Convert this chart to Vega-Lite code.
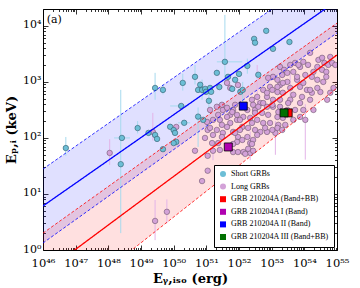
{
"$schema":"https://vega.github.io/schema/vega-lite/v6.json",
"width":294,"height":241,
"autosize":"none",
"padding":{"left":43,"top":9,"right":23,"bottom":38},
"background":"white",
"config":{"view":{"stroke":"#000","strokeWidth":1},"font":"DejaVu Serif",
"legend":{"orient":"bottom-right","offset":3,"strokeColor":"#000","fillColor":"#fff","padding":5,"labelFont":"Liberation Serif","labelFontSize":8,"labelColor":"#000","symbolSize":36,"rowPadding":2.6,"symbolStrokeColor":"#333","symbolStrokeWidth":0.7,"cornerRadius":0,"labelLimit":200,"symbolOpacity":1}},
"datasets":{
"bands":[{"sample":"short","E":1e46,"lo":1.334,"hi":27.9},{"sample":"short","E":1e55,"lo":7500,"hi":129000},{"sample":"long","E":1e46,"lo":0.056,"hi":2.0},{"sample":"long","E":1e55,"lo":776,"hi":11200}],
"lines":[{"line":"s_fit","sample":"short","kind":"fit","E":1e46,"Ep":6.11},{"line":"s_fit","sample":"short","kind":"fit","E":1e55,"Ep":28100},
{"line":"s_hi","sample":"short","kind":"bound","E":1e46,"Ep":27.9},{"line":"s_hi","sample":"short","kind":"bound","E":1e55,"Ep":129000},
{"line":"s_lo","sample":"short","kind":"bound","E":1e46,"Ep":1.334},{"line":"s_lo","sample":"short","kind":"bound","E":1e55,"Ep":7500},
{"line":"l_fit","sample":"long","kind":"fit","E":1e46,"Ep":0.38},{"line":"l_fit","sample":"long","kind":"fit","E":1e55,"Ep":3020},
{"line":"l_hi","sample":"long","kind":"bound","E":1e46,"Ep":2.0},{"line":"l_hi","sample":"long","kind":"bound","E":1e55,"Ep":11200},
{"line":"l_lo","sample":"long","kind":"bound","E":1e46,"Ep":0.056},{"line":"l_lo","sample":"long","kind":"bound","E":1e55,"Ep":776}],
"short":[
{"cat":"Short GRBs","E":5.0e46,"Ep":66,"lo":48,"hi":104},
{"cat":"Short GRBs","E":2.4e48,"Ep":34,"lo":2.0,"hi":720},
{"cat":"Short GRBs","E":2.6e48,"Ep":100,"elo":1.5e48,"ehi":4.6e48},
{"cat":"Short GRBs","E":7.9e48,"Ep":150,"lo":120,"hi":200},
{"cat":"Short GRBs","E":1.7e49,"Ep":123},
{"cat":"Short GRBs","E":2.7e49,"Ep":780,"lo":480,"hi":1450},
{"cat":"Short GRBs","E":4.7e49,"Ep":720,"lo":600,"hi":900},
{"cat":"Short GRBs","E":2.7e49,"Ep":113},
{"cat":"Short GRBs","E":4.7e49,"Ep":63},
{"cat":"Short GRBs","E":3.1e49,"Ep":96},
{"cat":"Short GRBs","E":7.8e49,"Ep":158},
{"cat":"Short GRBs","E":1.0e50,"Ep":138},
{"cat":"Short GRBs","E":1.1e50,"Ep":123},
{"cat":"Short GRBs","E":1.2e50,"Ep":85},
{"cat":"Short GRBs","E":1.0e50,"Ep":81},
{"cat":"Short GRBs","E":1.7e50,"Ep":372,"elo":7.8e49,"ehi":2.8e50},
{"cat":"Short GRBs","E":1.9e50,"Ep":960,"lo":700,"hi":1400},
{"cat":"Short GRBs","E":2.1e50,"Ep":186,"elo":1.35e50,"ehi":3.2e50},
{"cat":"Short GRBs","E":4.5e50,"Ep":1230,"lo":900,"hi":2000},
{"cat":"Short GRBs","E":5.6e50,"Ep":720},
{"cat":"Short GRBs","E":6.5e50,"Ep":890},
{"cat":"Short GRBs","E":7.4e50,"Ep":720,"lo":480,"hi":1100},
{"cat":"Short GRBs","E":9.2e50,"Ep":750},
{"cat":"Short GRBs","E":9.8e50,"Ep":665},
{"cat":"Short GRBs","E":1.2e51,"Ep":460,"lo":280,"hi":650},
{"cat":"Short GRBs","E":1.3e51,"Ep":780},
{"cat":"Short GRBs","E":1.4e51,"Ep":665},
{"cat":"Short GRBs","E":5.6e50,"Ep":240,"lo":69,"hi":350},
{"cat":"Short GRBs","E":8.0e50,"Ep":210},
{"cat":"Short GRBs","E":2.1e51,"Ep":1450},
{"cat":"Short GRBs","E":2.5e51,"Ep":810},
{"cat":"Short GRBs","E":3.7e51,"Ep":2280,"lo":900,"hi":15700,"elo":2.1e51,"ehi":1.26e52},
{"cat":"Short GRBs","E":4.6e51,"Ep":1230},
{"cat":"Short GRBs","E":7.6e51,"Ep":1090},
{"cat":"Short GRBs","E":1.0e52,"Ep":1390},
{"cat":"Short GRBs","E":1.1e52,"Ep":665},
{"cat":"Short GRBs","E":1.3e52,"Ep":720,"lo":420,"hi":1000},
{"cat":"Short GRBs","E":1.8e52,"Ep":1930,"lo":1400,"hi":2600},
{"cat":"Short GRBs","E":2.9e52,"Ep":5860},
{"cat":"Short GRBs","E":3.1e52,"Ep":5000},
{"cat":"Short GRBs","E":3.9e52,"Ep":1340},
{"cat":"Short GRBs","E":6.8e52,"Ep":8150},
{"cat":"Short GRBs","E":1.1e53,"Ep":3890},
{"cat":"Short GRBs","E":3.5e53,"Ep":5160},
{"cat":"Short GRBs","E":6.2e51,"Ep":750}],
"long":[
{"cat":"Long GRBs","E":2.7e54,"Ep":2470},{"cat":"Long GRBs","E":4.1e54,"Ep":2180},{"cat":"Long GRBs","E":5.4e54,"Ep":2010},{"cat":"Long GRBs","E":7.1e54,"Ep":2180},
{"cat":"Long GRBs","E":2.5e54,"Ep":1850},{"cat":"Long GRBs","E":3.5e54,"Ep":1640},{"cat":"Long GRBs","E":4.7e54,"Ep":1510},{"cat":"Long GRBs","E":1.9e54,"Ep":1510},
{"cat":"Long GRBs","E":9.3e53,"Ep":2280},{"cat":"Long GRBs","E":1.3e54,"Ep":2010},{"cat":"Long GRBs","E":7.4e53,"Ep":1850},{"cat":"Long GRBs","E":5.2e53,"Ep":2180},
{"cat":"Long GRBs","E":3.7e53,"Ep":2010},{"cat":"Long GRBs","E":1.8e53,"Ep":1850},{"cat":"Long GRBs","E":2.4e53,"Ep":1640},{"cat":"Long GRBs","E":4.6e53,"Ep":1510},
{"cat":"Long GRBs","E":1.07e54,"Ep":1330},{"cat":"Long GRBs","E":1.7e54,"Ep":1230},{"cat":"Long GRBs","E":2.5e54,"Ep":1090},{"cat":"Long GRBs","E":3.8e54,"Ep":1000},
{"cat":"Long GRBs","E":4.7e54,"Ep":1230},{"cat":"Long GRBs","E":8.9e54,"Ep":2010},{"cat":"Long GRBs","E":1.1e53,"Ep":1230},{"cat":"Long GRBs","E":7.8e52,"Ep":1180},
{"cat":"Long GRBs","E":1.5e53,"Ep":1090},{"cat":"Long GRBs","E":3.0e53,"Ep":1000},{"cat":"Long GRBs","E":6.0e53,"Ep":1090},{"cat":"Long GRBs","E":1.8e53,"Ep":880},
{"cat":"Long GRBs","E":3.7e53,"Ep":780,"lo":400,"hi":1500},{"cat":"Long GRBs","E":7.4e53,"Ep":815},{"cat":"Long GRBs","E":1.2e54,"Ep":720},{"cat":"Long GRBs","E":8.9e52,"Ep":815},
{"cat":"Long GRBs","E":5.5e52,"Ep":720},{"cat":"Long GRBs","E":1.5e53,"Ep":660},{"cat":"Long GRBs","E":2.2e53,"Ep":640},{"cat":"Long GRBs","E":4.6e53,"Ep":590},
{"cat":"Long GRBs","E":8.5e53,"Ep":540},{"cat":"Long GRBs","E":1.7e54,"Ep":640},{"cat":"Long GRBs","E":3.1e54,"Ep":660},{"cat":"Long GRBs","E":5.0e54,"Ep":480},
{"cat":"Long GRBs","E":3.6e52,"Ep":540,"lo":380,"hi":2000},{"cat":"Long GRBs","E":7.2e52,"Ep":540},{"cat":"Long GRBs","E":1.1e53,"Ep":480},{"cat":"Long GRBs","E":1.8e53,"Ep":480},
{"cat":"Long GRBs","E":3.7e53,"Ep":480},{"cat":"Long GRBs","E":7.4e53,"Ep":420},{"cat":"Long GRBs","E":1.5e54,"Ep":480},{"cat":"Long GRBs","E":1.9e54,"Ep":316},
{"cat":"Long GRBs","E":2.5e52,"Ep":480},{"cat":"Long GRBs","E":4.5e52,"Ep":420},{"cat":"Long GRBs","E":7.2e52,"Ep":360},{"cat":"Long GRBs","E":1.1e53,"Ep":360},
{"cat":"Long GRBs","E":1.8e53,"Ep":360},{"cat":"Long GRBs","E":3.0e53,"Ep":316},{"cat":"Long GRBs","E":5.2e53,"Ep":316},{"cat":"Long GRBs","E":9.3e53,"Ep":316},
{"cat":"Long GRBs","E":1.8e52,"Ep":316},{"cat":"Long GRBs","E":3.1e52,"Ep":316},{"cat":"Long GRBs","E":5.1e52,"Ep":280},{"cat":"Long GRBs","E":7.8e52,"Ep":258},
{"cat":"Long GRBs","E":1.5e53,"Ep":237},{"cat":"Long GRBs","E":2.2e53,"Ep":228},{"cat":"Long GRBs","E":4.6e53,"Ep":210},{"cat":"Long GRBs","E":7.4e53,"Ep":237},
{"cat":"Long GRBs","E":1.07e54,"Ep":210,"lo":41,"hi":400},{"cat":"Long GRBs","E":1.35e52,"Ep":237},{"cat":"Long GRBs","E":2.2e52,"Ep":228},{"cat":"Long GRBs","E":3.6e52,"Ep":210},
{"cat":"Long GRBs","E":5.5e52,"Ep":185},{"cat":"Long GRBs","E":8.9e52,"Ep":185},{"cat":"Long GRBs","E":1.6e53,"Ep":171},{"cat":"Long GRBs","E":8.7e51,"Ep":210},
{"cat":"Long GRBs","E":5.4e51,"Ep":185},{"cat":"Long GRBs","E":1.26e52,"Ep":157},{"cat":"Long GRBs","E":1.9e52,"Ep":151},{"cat":"Long GRBs","E":3.1e52,"Ep":139},
{"cat":"Long GRBs","E":4.5e52,"Ep":128},{"cat":"Long GRBs","E":7.2e52,"Ep":128},{"cat":"Long GRBs","E":1.3e53,"Ep":123,"lo":50,"hi":200},{"cat":"Long GRBs","E":6.6e51,"Ep":128},
{"cat":"Long GRBs","E":3.2e51,"Ep":316},{"cat":"Long GRBs","E":2.1e51,"Ep":360},{"cat":"Long GRBs","E":1.3e51,"Ep":316},{"cat":"Long GRBs","E":5.4e51,"Ep":258},
{"cat":"Long GRBs","E":2.6e51,"Ep":210},{"cat":"Long GRBs","E":4.3e51,"Ep":157},{"cat":"Long GRBs","E":1.6e51,"Ep":113},{"cat":"Long GRBs","E":9.3e51,"Ep":104},
{"cat":"Long GRBs","E":1.8e52,"Ep":104},{"cat":"Long GRBs","E":3.6e52,"Ep":113},{"cat":"Long GRBs","E":1.1e51,"Ep":139},{"cat":"Long GRBs","E":2.1e51,"Ep":139},
{"cat":"Long GRBs","E":3.0e51,"Ep":171},{"cat":"Long GRBs","E":3.2e51,"Ep":123},{"cat":"Long GRBs","E":7.6e51,"Ep":123},{"cat":"Long GRBs","E":1.07e52,"Ep":139},
{"cat":"Long GRBs","E":2.5e52,"Ep":185},{"cat":"Long GRBs","E":3.1e52,"Ep":280},{"cat":"Long GRBs","E":2.7e52,"Ep":390},{"cat":"Long GRBs","E":3.9e52,"Ep":360},
{"cat":"Long GRBs","E":5.5e52,"Ep":420},{"cat":"Long GRBs","E":8.7e51,"Ep":85},{"cat":"Long GRBs","E":1.26e52,"Ep":92},{"cat":"Long GRBs","E":2.2e52,"Ep":81,"lo":40,"hi":130},
{"cat":"Long GRBs","E":2.7e52,"Ep":92},{"cat":"Long GRBs","E":6.3e52,"Ep":151},{"cat":"Long GRBs","E":2.3e51,"Ep":81},{"cat":"Long GRBs","E":2.6e51,"Ep":61},
{"cat":"Long GRBs","E":6.6e51,"Ep":56},{"cat":"Long GRBs","E":1.35e52,"Ep":56},{"cat":"Long GRBs","E":2.2e52,"Ep":54},{"cat":"Long GRBs","E":1.6e51,"Ep":210},
{"cat":"Long GRBs","E":2.3e51,"Ep":258},{"cat":"Long GRBs","E":8.7e51,"Ep":258},{"cat":"Long GRBs","E":6.6e51,"Ep":316},{"cat":"Long GRBs","E":4.3e51,"Ep":345},
{"cat":"Long GRBs","E":3.0e51,"Ep":390},{"cat":"Long GRBs","E":1.05e51,"Ep":193},{"cat":"Long GRBs","E":1.3e51,"Ep":151},{"cat":"Long GRBs","E":4.3e51,"Ep":237},
{"cat":"Long GRBs","E":6.2e51,"Ep":290},{"cat":"Long GRBs","E":7.6e51,"Ep":390},{"cat":"Long GRBs","E":5.4e51,"Ep":780},{"cat":"Long GRBs","E":4.3e51,"Ep":960},
{"cat":"Long GRBs","E":9.3e51,"Ep":880},{"cat":"Long GRBs","E":3.0e51,"Ep":104},{"cat":"Long GRBs","E":1.5e51,"Ep":81},{"cat":"Long GRBs","E":9.1e50,"Ep":100},
{"cat":"Long GRBs","E":1.6e51,"Ep":59,"lo":40,"hi":80},{"cat":"Long GRBs","E":1.1e51,"Ep":48},{"cat":"Long GRBs","E":9.3e51,"Ep":56},{"cat":"Long GRBs","E":1.55e52,"Ep":52},
{"cat":"Long GRBs","E":1.9e52,"Ep":64},{"cat":"Long GRBs","E":2.7e52,"Ep":59},{"cat":"Long GRBs","E":2.5e52,"Ep":78},{"cat":"Long GRBs","E":6.6e51,"Ep":78},
{"cat":"Long GRBs","E":1.1e51,"Ep":26},{"cat":"Long GRBs","E":7.4e50,"Ep":17},{"cat":"Long GRBs","E":4.5e50,"Ep":59},{"cat":"Long GRBs","E":1.1e48,"Ep":54,"lo":33,"hi":95},
{"cat":"Long GRBs","E":2.7e49,"Ep":3.3,"lo":1.5,"hi":7.8},{"cat":"Long GRBs","E":6.2e49,"Ep":4.8,"lo":3,"hi":8},{"cat":"Long GRBs","E":2.3e49,"Ep":128,"lo":90,"hi":280},{"cat":"Long GRBs","E":1.2e50,"Ep":157},
{"cat":"Long GRBs","E":1.05e53,"Ep":390},{"cat":"Long GRBs","E":3.2e53,"Ep":420},{"cat":"Long GRBs","E":1.6e53,"Ep":290},{"cat":"Long GRBs","E":1.05e53,"Ep":139},
{"cat":"Long GRBs","E":1.5e53,"Ep":151},{"cat":"Long GRBs","E":1.07e52,"Ep":210},{"cat":"Long GRBs","E":1.5e54,"Ep":3300},{"cat":"Long GRBs","E":3.5e54,"Ep":2690},
{"cat":"Long GRBs","E":6.2e54,"Ep":2790},{"cat":"Long GRBs","E":6.6e53,"Ep":2010},{"cat":"Long GRBs","E":2.1e53,"Ep":1330},{"cat":"Long GRBs","E":3.0e53,"Ep":1450},
{"cat":"Long GRBs","E":6.0e53,"Ep":1230},{"cat":"Long GRBs","E":9.3e53,"Ep":960},{"cat":"Long GRBs","E":2.2e53,"Ep":960},{"cat":"Long GRBs","E":1.5e53,"Ep":815},
{"cat":"Long GRBs","E":1.05e53,"Ep":720},{"cat":"Long GRBs","E":7.2e52,"Ep":640},{"cat":"Long GRBs","E":2.5e54,"Ep":780},{"cat":"Long GRBs","E":7.8e54,"Ep":780},
{"cat":"Long GRBs","E":6.2e54,"Ep":640},{"cat":"Long GRBs","E":1.5e54,"Ep":720},{"cat":"Long GRBs","E":2.6e53,"Ep":171},{"cat":"Long GRBs","E":2.1e53,"Ep":139}],
"special":[
{"cat":"GRB 210204A (Band+BB)","E":3.2e53,"Ep":280},
{"cat":"GRB 210204A I (Band)","E":4.7e51,"Ep":69},
{"cat":"GRB 210204A II (Band)","E":1.35e52,"Ep":370},
{"cat":"GRB 210204A III (Band+BB)","E":2.4e53,"Ep":280}],
"label":[{"text":"(a)","E":1.3e46,"Ep":12800}]
},
"layer":[
{"data":{"name":"bands"},"mark":{"type":"area","fillOpacity":0.12,"clip":true},
 "encoding":{
  "x":{"field":"E","type":"quantitative","scale":{"type":"log","domain":[1e46,1e55],"nice":false},
   "axis":{"orient":"top","labels":false,"title":null,"grid":false,"domain":false,"tickColor":"#000","tickWidth":0.8,
   "tickSize":{"condition":{"test":"abs(log(datum.value)/LN10 - round(log(datum.value)/LN10)) < 0.01","value":-5},"value":-2.5},
   "values":[1e46,2e46,3e46,4e46,5e46,6e46,7e46,8e46,9e46,1e47,2e47,3e47,4e47,5e47,6e47,7e47,8e47,9e47,1e48,2e48,3e48,4e48,5e48,6e48,7e48,8e48,9e48,1e49,2e49,3e49,4e49,5e49,6e49,7e49,8e49,9e49,1e50,2e50,3e50,4e50,5e50,6e50,7e50,8e50,9e50,1e51,2e51,3e51,4e51,5e51,6e51,7e51,8e51,9e51,1e52,2e52,3e52,4e52,5e52,6e52,7e52,8e52,9e52,1e53,2e53,3e53,4e53,5e53,6e53,7e53,8e53,9e53,1e54,2e54,3e54,4e54,5e54,6e54,7e54,8e54,9e54,1e55]}},
  "y":{"field":"lo","type":"quantitative","scale":{"type":"log","domain":[1,20000],"nice":false},
   "axis":{"orient":"right","labels":false,"title":null,"grid":false,"domain":false,"tickColor":"#000","tickWidth":0.8,
   "tickSize":{"condition":{"test":"abs(log(datum.value)/LN10 - round(log(datum.value)/LN10)) < 0.01","value":-5},"value":-2.5},
   "values":[1,2,3,4,5,6,7,8,9,10,20,30,40,50,60,70,80,90,100,200,300,400,500,600,700,800,900,1000,2000,3000,4000,5000,6000,7000,8000,9000,10000,20000]}},
  "y2":{"field":"hi"},
  "fill":{"field":"sample","type":"nominal","scale":{"domain":["short","long"],"range":["#0000ff","#ff0000"]},"legend":null}
 }},
{"layer":[
 {"data":{"name":"short"},"transform":[{"filter":"isValid(datum.lo)"}],
  "mark":{"type":"rule","color":"#a6daee","strokeWidth":1,"clip":true},
  "encoding":{
   "x":{"field":"E","type":"quantitative","scale":{"type":"log","domain":[1e46,1e55],"nice":false},
    "axis":{"orient":"bottom","title":"Eᵧ,ᵢₛₒ (erg)","titleFont":"DejaVu Serif","titleFontSize":13,"titleFontWeight":"bold","titleColor":"#000","titlePadding":1,
    "grid":false,"domain":false,"tickColor":"#000","tickWidth":0.8,
    "tickSize":{"condition":{"test":"abs(log(datum.value)/LN10 - round(log(datum.value)/LN10)) < 0.01","value":-5},"value":-2.5},
    "labelPadding":12,"labelFont":"DejaVu Serif","labelFontSize":11.5,"labelColor":"#000","labelOverlap":false,"labelFlush":false,
    "labelExpr":"abs(log(datum.value)/LN10 - round(log(datum.value)/LN10)) < 0.01 ? '10' + (round(log(datum.value)/LN10) >= 10 ? substring('⁰¹²³⁴⁵⁶⁷⁸⁹', floor(round(log(datum.value)/LN10)/10), floor(round(log(datum.value)/LN10)/10)+1) : '') + substring('⁰¹²³⁴⁵⁶⁷⁸⁹', round(log(datum.value)/LN10)%10, round(log(datum.value)/LN10)%10+1) : ''",
    "values":[1e46,2e46,3e46,4e46,5e46,6e46,7e46,8e46,9e46,1e47,2e47,3e47,4e47,5e47,6e47,7e47,8e47,9e47,1e48,2e48,3e48,4e48,5e48,6e48,7e48,8e48,9e48,1e49,2e49,3e49,4e49,5e49,6e49,7e49,8e49,9e49,1e50,2e50,3e50,4e50,5e50,6e50,7e50,8e50,9e50,1e51,2e51,3e51,4e51,5e51,6e51,7e51,8e51,9e51,1e52,2e52,3e52,4e52,5e52,6e52,7e52,8e52,9e52,1e53,2e53,3e53,4e53,5e53,6e53,7e53,8e53,9e53,1e54,2e54,3e54,4e54,5e54,6e54,7e54,8e54,9e54,1e55]}},
   "y":{"field":"lo","type":"quantitative","scale":{"type":"log","domain":[1,20000],"nice":false},
    "axis":{"orient":"left","title":"Eₚ,ᵢ (keV)","titleFont":"DejaVu Serif","titleFontSize":13,"titleFontWeight":"bold","titleColor":"#000","titlePadding":4,
    "grid":false,"domain":false,"tickColor":"#000","tickWidth":0.8,
    "tickSize":{"condition":{"test":"abs(log(datum.value)/LN10 - round(log(datum.value)/LN10)) < 0.01","value":-5},"value":-2.5},
    "labelPadding":7,"labelOffset":-1,"labelFont":"DejaVu Serif","labelFontSize":11,"labelColor":"#000","labelOverlap":false,"labelFlush":false,
    "labelExpr":"abs(log(datum.value)/LN10 - round(log(datum.value)/LN10)) < 0.01 ? '10' + substring('⁰¹²³⁴⁵⁶⁷⁸⁹', round(log(datum.value)/LN10), round(log(datum.value)/LN10)+1) : ''",
    "values":[1,2,3,4,5,6,7,8,9,10,20,30,40,50,60,70,80,90,100,200,300,400,500,600,700,800,900,1000,2000,3000,4000,5000,6000,7000,8000,9000,10000,20000]}},
   "y2":{"field":"hi"}}},
 {"data":{"name":"short"},"transform":[{"filter":"isValid(datum.elo)"}],
  "mark":{"type":"rule","color":"#a6daee","strokeWidth":1,"clip":true},
  "encoding":{"x":{"field":"elo","type":"quantitative","scale":{"type":"log","domain":[1e46,1e55],"nice":false}},"x2":{"field":"ehi"},
   "y":{"field":"Ep","type":"quantitative","scale":{"type":"log","domain":[1,20000],"nice":false}}}},
 {"data":{"name":"long"},"transform":[{"filter":"isValid(datum.lo)"}],
  "mark":{"type":"rule","color":"#e3b4e8","strokeWidth":1,"clip":true},
  "encoding":{"x":{"field":"E","type":"quantitative","scale":{"type":"log","domain":[1e46,1e55],"nice":false}},
   "y":{"field":"lo","type":"quantitative","scale":{"type":"log","domain":[1,20000],"nice":false}},"y2":{"field":"hi"}}},
 {"data":{"name":"long"},
  "mark":{"type":"point","filled":true,"size":30,"stroke":"#6e566f","strokeWidth":0.6,"opacity":1,"clip":true},
  "encoding":{"x":{"field":"E","type":"quantitative","scale":{"type":"log","domain":[1e46,1e55],"nice":false}},
   "y":{"field":"Ep","type":"quantitative","scale":{"type":"log","domain":[1,20000],"nice":false}},
   "color":{"field":"cat","type":"nominal","title":null,"scale":{"domain":["Short GRBs","Long GRBs","GRB 210204A (Band+BB)","GRB 210204A I (Band)","GRB 210204A II (Band)","GRB 210204A III (Band+BB)"],"range":["#6cbed6","#d3a2d8","#ff0000","#b000b0","#0000ff","#007000"]}},
   "shape":{"field":"cat","type":"nominal","title":null,"scale":{"domain":["Short GRBs","Long GRBs","GRB 210204A (Band+BB)","GRB 210204A I (Band)","GRB 210204A II (Band)","GRB 210204A III (Band+BB)"],"range":["circle","circle","square","square","square","square"]}}}},
 {"data":{"name":"short"},
  "mark":{"type":"point","filled":true,"size":30,"stroke":"#2d5a6a","strokeWidth":0.6,"opacity":1,"clip":true},
  "encoding":{"x":{"field":"E","type":"quantitative","scale":{"type":"log","domain":[1e46,1e55],"nice":false}},
   "y":{"field":"Ep","type":"quantitative","scale":{"type":"log","domain":[1,20000],"nice":false}},
   "color":{"field":"cat","type":"nominal","title":null},
   "shape":{"field":"cat","type":"nominal","title":null}}},
 {"data":{"name":"lines"},
  "mark":{"type":"line","clip":true},
  "encoding":{"x":{"field":"E","type":"quantitative","scale":{"type":"log","domain":[1e46,1e55],"nice":false}},
   "y":{"field":"Ep","type":"quantitative","scale":{"type":"log","domain":[1,20000],"nice":false}},
   "detail":{"field":"line"},
   "stroke":{"field":"sample","type":"nominal","scale":{"domain":["short","long"],"range":["#0000ff","#ff0000"]},"legend":null},
   "strokeDash":{"field":"kind","type":"nominal","scale":{"domain":["fit","bound"],"range":[[1,0],[3,2]]},"legend":null},
   "strokeWidth":{"field":"kind","type":"nominal","scale":{"domain":["fit","bound"],"range":[1.3,0.8]},"legend":null}}},
 {"data":{"name":"special"},
  "mark":{"type":"point","filled":true,"size":64,"stroke":"#000","strokeWidth":0.8,"opacity":1,"clip":true},
  "encoding":{"x":{"field":"E","type":"quantitative","scale":{"type":"log","domain":[1e46,1e55],"nice":false}},
   "y":{"field":"Ep","type":"quantitative","scale":{"type":"log","domain":[1,20000],"nice":false}},
   "color":{"field":"cat","type":"nominal","title":null},
   "shape":{"field":"cat","type":"nominal","title":null}}},
 {"data":{"name":"label"},
  "mark":{"type":"text","align":"left","baseline":"middle","font":"DejaVu Serif","fontSize":11,"color":"#000"},
  "encoding":{"x":{"field":"E","type":"quantitative","scale":{"type":"log","domain":[1e46,1e55],"nice":false}},
   "y":{"field":"Ep","type":"quantitative","scale":{"type":"log","domain":[1,20000],"nice":false}},
   "text":{"field":"text"}}}
]}
],
"resolve":{"axis":{"x":"independent","y":"independent"}}
}
